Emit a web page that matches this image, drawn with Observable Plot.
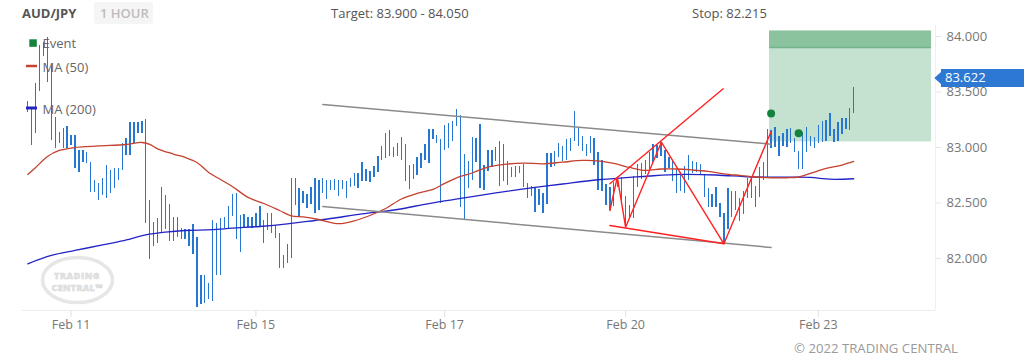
<!DOCTYPE html>
<html><head><meta charset="utf-8">
<script src="https://cdn.jsdelivr.net/npm/d3@7"></script>
<script src="https://cdn.jsdelivr.net/npm/@observablehq/plot@0.6"></script>
<style>
body{margin:0;background:#fff;font-family:"Open Sans",sans-serif;}
#wrap{position:relative;width:1024px;height:363px;overflow:hidden;}
#wrap > svg{position:absolute;left:0;top:0;}
</style></head><body><div id="wrap"></div>
<script>
// ---- data (hourly bars, indexed) ----
const highs = [83.417,83.351,83.577,83.919,83.946,83.991,83.739,83.270,83.135,83.171,
83.189,83.108,83.108,82.973,82.973,82.955,82.865,82.703,82.676,82.721,
82.838,82.793,82.811,82.811,83.036,83.081,83.225,83.225,83.225,83.234,
83.252,82.523,82.324,82.360,82.640,82.568,82.486,82.369,82.369,82.270,
82.261,82.261,82.306,82.189,81.847,81.847,81.775,82.342,82.315,82.360,
82.369,82.468,82.577,82.586,82.387,82.396,82.369,82.369,82.405,82.468,
82.342,82.405,82.405,82.297,82.225,82.027,82.126,82.721,82.721,82.631,
82.604,82.577,82.640,82.721,82.703,82.721,82.703,82.703,82.712,82.703,
82.703,82.694,82.721,82.766,82.766,82.865,82.802,82.784,82.829,82.919,
83.009,83.126,83.153,83.000,83.036,83.090,83.027,82.838,82.847,82.910,
82.946,83.027,83.162,83.162,83.108,83.072,83.198,83.216,83.234,83.342,
83.288,82.937,82.874,83.090,83.081,83.207,82.838,82.973,82.973,83.000,
83.054,83.027,82.874,82.820,82.829,82.829,82.847,82.676,82.649,82.640,
82.622,82.586,82.946,82.946,82.964,83.036,83.009,83.072,83.081,83.324,
83.180,83.099,83.027,83.099,83.081,82.955,82.883,82.667,82.640,82.685,
82.730,82.730,82.559,82.477,82.739,82.847,82.856,82.883,82.955,83.027,
83.018,83.045,82.973,82.910,82.874,82.802,82.775,82.829,82.928,82.874,
82.865,82.847,82.757,82.631,82.577,82.640,82.495,82.405,82.631,82.604,
82.604,82.541,82.604,82.721,82.730,82.649,82.820,82.865,83.162,83.153,
83.180,83.099,83.126,83.162,83.171,83.081,82.964,83.135,83.180,83.099,
83.090,83.198,83.234,83.243,83.306,83.162,83.225,83.261,83.261,83.351,
83.541];
const lows = [83.318,83.018,83.126,83.505,83.820,83.586,83.063,82.991,83.036,82.991,
82.991,83.018,82.811,82.775,82.865,82.856,82.595,82.595,82.523,82.568,
82.541,82.586,82.631,82.703,82.793,82.928,82.928,83.036,83.126,83.126,
82.315,81.991,82.108,82.135,82.234,82.261,82.153,82.153,82.189,82.171,
82.171,82.108,82.036,81.559,81.586,81.595,81.631,81.613,81.847,81.847,
82.270,82.270,82.378,82.171,82.054,82.270,82.279,82.270,82.279,82.279,
82.135,82.252,82.225,82.180,81.910,81.910,81.955,82.000,82.477,82.369,
82.495,82.450,82.486,82.405,82.432,82.586,82.532,82.613,82.613,82.559,
82.622,82.541,82.640,82.649,82.631,82.694,82.694,82.685,82.730,82.775,
82.883,82.901,82.919,82.910,82.919,82.883,82.694,82.622,82.712,82.748,
82.811,82.883,82.856,83.072,83.036,82.495,82.973,82.991,83.054,83.189,
82.459,82.351,82.631,82.703,82.865,82.631,82.613,82.784,82.820,82.874,
82.649,82.694,82.658,82.730,82.730,82.766,82.640,82.541,82.559,82.414,
82.477,82.405,82.486,82.820,82.829,82.910,82.874,82.883,82.964,83.054,
83.009,82.964,82.919,82.946,82.838,82.613,82.604,82.477,82.432,82.468,
82.640,82.514,82.279,82.351,82.360,82.640,82.712,82.757,82.802,82.865,
82.901,82.919,82.775,82.811,82.694,82.586,82.604,82.586,82.703,82.766,
82.775,82.757,82.550,82.459,82.459,82.459,82.369,82.144,82.261,82.369,
82.432,82.333,82.396,82.541,82.541,82.459,82.550,82.703,82.721,82.991,
83.000,82.919,83.009,83.000,83.036,82.955,82.802,82.802,82.955,83.009,
82.991,83.036,83.045,83.054,83.099,83.045,83.054,83.117,83.162,83.153,
83.306];
const tickIndex = [11, 58, 106, 152, 201];
const tickLabels = ["Feb 11", "Feb 15", "Feb 17", "Feb 20", "Feb 23"];
const yTicks = [82, 82.5, 83, 83.5, 84];
const ma50Index = [0,2,5,8,12,18,25,29,31,33,37,40,43,46,49,52,56,60,64,67,70,74,79,83,87,91,95,99,103,106,110,113,117,121,126,131,136,141,145,149,153,157,161,165,169,173,177,181,185,189,193,196,199,203,207,210];
const ma50Values = [82.757,82.820,82.919,82.973,83.000,83.014,83.027,83.045,83.027,82.988,82.941,82.910,82.865,82.775,82.712,82.649,82.550,82.495,82.432,82.383,82.374,82.351,82.313,82.338,82.387,82.450,82.536,82.586,82.622,82.676,82.739,82.770,82.824,82.847,82.859,82.853,82.868,82.883,82.879,82.856,82.820,82.793,82.806,82.806,82.797,82.784,82.763,82.748,82.734,82.727,82.727,82.734,82.766,82.811,82.842,82.874];
const ma200Index = [0,6,12,19,24,30,35,40,47,52,59,66,73,77,85,94,102,111,119,128,136,145,153,158,166,175,184,193,199,204,210];
const ma200Values = [81.952,82.027,82.072,82.122,82.158,82.212,82.237,82.252,82.259,82.273,82.288,82.311,82.342,82.360,82.401,82.441,82.495,82.545,82.590,82.635,82.671,82.709,82.730,82.743,82.757,82.752,82.734,82.732,82.730,82.714,82.718];
const channelIndex = [75, 189];
const channelUpper = [83.387, 83.030];
const channelLower = [82.468, 82.099];
const wedgeUpperIndex = [148, 176.8];
const wedgeUpperValues = [82.673, 83.529];
const zigzagIndex = [148, 149.9, 152, 161.1, 177, 189];
const zigzagValues = [82.432, 82.732, 82.282, 83.048, 82.132, 83.144];
const wedgeLowerIndex = [148, 177];
const wedgeLowerValues = [82.297, 82.132];
const eventIndex = [189, 196];
const eventValues = [83.306, 83.129];
const zoneStart = 188.6, zoneEnd = 229.8;
const entryLevel = 83.05;
const target = [83.9, 84.05];
const stop = 82.215;
const lastPrice = 83.622;
const symbol = "AUD/JPY", period = "1 HOUR";

// ---- build ----
const xDomain = [-1.35, 230.8];
const yDomain = [81.531, 84.1];
const bars = highs.map((h, i) => ({i, high: h, low: lows[i]}));
const pts = (xs, ys, k) => xs.map((x, j) => ({x, y: ys[j], k}));
const channel = [...pts(channelIndex, channelUpper, "u"), ...pts(channelIndex, channelLower, "l")];
const red = [...pts(wedgeUpperIndex, wedgeUpperValues, "a"), ...pts(zigzagIndex, zigzagValues, "b"), ...pts(wedgeLowerIndex, wedgeLowerValues, "c")];

const plot = Plot.plot({
  width: 1024, height: 363,
  marginLeft: 22, marginRight: 89, marginTop: 25, marginBottom: 53,
  style: {fontFamily: '"Open Sans", sans-serif', fontSize: "13px", background: "transparent", overflow: "visible"},
  x: {domain: xDomain, range: [22, 935]},
  y: {domain: yDomain, range: [310, 24.9]},
  marks: [
    Plot.rect([0], {x1: zoneStart, x2: zoneEnd, y1: entryLevel, y2: target[0], fill: "#c4e2cf"}),
    Plot.rect([0], {x1: zoneStart, x2: zoneEnd, y1: target[0], y2: target[1], fill: "#8bc39e"}),
    Plot.ruleY([target[0]], {x1: zoneStart, x2: zoneEnd, stroke: "#74b48a", strokeWidth: 1.5}),
    Plot.ruleY([yDomain[0]], {stroke: "#ececec"}),
    Plot.ruleX([xDomain[1]], {stroke: "#efefef"}),
    Plot.ruleX(bars, {x: "i", y1: "low", y2: "high", stroke: "#2677d2", strokeWidth: 1.35, shapeRendering: "crispEdges"}),
    Plot.line(pts(ma200Index, ma200Values), {x: "x", y: "y", stroke: "#2323c6", strokeWidth: 1.3, curve: "catmull-rom"}),
    Plot.line(pts(ma50Index, ma50Values), {x: "x", y: "y", stroke: "#c4402f", strokeWidth: 1.3, curve: "catmull-rom"}),
    Plot.line(channel, {x: "x", y: "y", z: "k", stroke: "#8a8a8a", strokeWidth: 1.5}),
    Plot.line(red, {x: "x", y: "y", z: "k", stroke: "#ff2222", strokeWidth: 1.4}),
    Plot.dot(pts(eventIndex, eventValues), {x: "x", y: "y", r: 4, fill: "#13823e", stroke: "none"}),
    Plot.axisX({ticks: tickIndex, tickFormat: d => tickLabels[tickIndex.indexOf(d)], tickSize: 7, tickPadding: 3, stroke: "#e2e2e2", fill: "#777", fontSize: 12.5, label: null}),
    Plot.axisY({anchor: "right", ticks: yTicks, tickFormat: d3.format(".3f"), tickSize: 5, tickPadding: 6, stroke: "#e6e6e6", fill: "#777", fontSize: 13, label: null})
  ]
});
const wrap = document.getElementById("wrap");
wrap.appendChild(plot);

// ---- overlay texts ----
const yP = plot.scale("y").apply(lastPrice);
const ns = "http://www.w3.org/2000/svg";
const ov = document.createElementNS(ns, "svg");
ov.setAttribute("width", 1024); ov.setAttribute("height", 363);
ov.setAttribute("font-family", '"Open Sans", sans-serif');
ov.innerHTML = `
<g>
 <ellipse cx="77.5" cy="280" rx="35" ry="22.5" fill="none" stroke="#e6e6e6" stroke-width="3.5"/>
 <text x="77" y="278.5" text-anchor="middle" font-size="9" font-weight="800" letter-spacing="0.6" fill="#e3e3e3" stroke="#d6d6d6" stroke-width="0.4">TRADING</text>
 <text x="77" y="291" text-anchor="middle" font-size="9" font-weight="800" letter-spacing="0.3" fill="#e3e3e3" stroke="#d6d6d6" stroke-width="0.4">CENTRAL™</text>
</g>
<text x="22" y="17.7" font-size="13" font-weight="700" fill="#555">${symbol}</text>
<rect x="94" y="2" width="59" height="22" rx="3" fill="#f5f5f5"/>
<text x="100" y="17.7" font-size="13" font-weight="600" fill="#bdbdbd">${period}</text>
<text x="331" y="17.7" font-size="13" fill="#555">Target: ${target[0].toFixed(3)} - ${target[1].toFixed(3)}</text>
<text x="692" y="17.7" font-size="13" fill="#555">Stop: ${stop.toFixed(3)}</text>
<rect x="29.3" y="39.3" width="7.5" height="7.5" fill="#15833d"/>
<text x="42.5" y="47.8" font-size="13" fill="#666">Event</text>
<line x1="26" x2="37" y1="66" y2="66" stroke="#c9402e" stroke-width="2.5"/>
<text x="42.5" y="71.5" font-size="13" fill="#666">MA (50)</text>
<line x1="26" x2="37" y1="108" y2="108" stroke="#2323c6" stroke-width="3"/>
<text x="42.5" y="113.5" font-size="13" fill="#666">MA (200)</text>
<path d="M934.3,${yP} L941,${yP-6} L941,${yP-9} L1024,${yP-9} L1024,${yP+9} L941,${yP+9} L941,${yP+6} Z" fill="#2d78d2"/>
<text x="945" y="${yP+4.3}" font-size="13" fill="#fff">${lastPrice.toFixed(3)}</text>
<text x="794" y="353" font-size="12" fill="#9a9a9a" textLength="164" lengthAdjust="spacingAndGlyphs">© 2022 TRADING CENTRAL</text>
`;
wrap.appendChild(ov);
</script></body></html>
